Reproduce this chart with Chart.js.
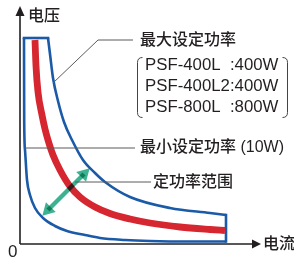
<!DOCTYPE html>
<html>
<head>
<meta charset="utf-8">
<script src="https://cdn.jsdelivr.net/npm/chart.js@4"></script>
<style>
  html, body { margin: 0; padding: 0; background: #ffffff; }
  #wrap { width: 294px; height: 258px; position: relative; }
</style>
</head>
<body>
<div id="wrap"><canvas id="c" width="294" height="258"></canvas></div>
<script>
// ---- data (arbitrary current / voltage units) ----
const minCurveI = [4, 4.2, 5, 7, 10, 15, 23, 35, 47, 65, 80, 105, 130, 170, 206];
const minCurveV = [206, 124, 94, 64, 49, 36, 26, 18, 13, 9, 6, 4, 3, 2.5, 2.5];

const maxCurveI = [28, 30, 33, 38, 44, 52, 63, 75, 85, 110, 150, 190, 206];
const maxCurveV = [206, 190, 166, 143, 122, 104, 84, 71, 62, 47, 36, 31, 29];

const voltLimitI = [4, 28];
const voltLimitV = [206, 206];
const currLimitI = [206, 206];
const currLimitV = [29, 2.5];

const ratedI = [15, 16, 18, 22, 25, 28, 33, 40, 49, 60, 75, 90, 110, 130, 160, 190, 205];
const ratedV = [204, 178, 152, 129, 115, 104, 89, 74, 59, 47, 37, 30.5, 25, 21, 17, 14.5, 13.5];

const rangeArrowI = [28, 64];
const rangeArrowV = [34, 70];

const labelVoltage = '电压';
const labelCurrent = '电流';
const labelOrigin = '0';
const labelMax = '最大设定功率';
const modelNames = ['PSF-400L', 'PSF-400L2', 'PSF-800L'];
const modelPowers = [':400W', ':400W', ':800W'];
const labelMin = '最小设定功率 (10W)';
const labelRange = '定功率范围';

function pts(xs, ys) { return xs.map((x, i) => ({ x: x, y: ys[i] })); }

const BLUE = '#1b5aa7';
const RED = '#d6262f';
const TEAL = '#3db293';
const INK = '#231f20';
const LEADER = '#5a5a5a';
const FONT = '"Liberation Sans", "Noto Sans CJK SC", sans-serif';

const overlayPlugin = {
  id: 'overlay',
  beforeDatasetDraw(chart, args) {
    if (chart.data.datasets[args.index].multiply) {
      chart.ctx.save();
      chart.ctx.globalCompositeOperation = 'multiply';
    }
  },
  afterDatasetDraw(chart, args) {
    if (chart.data.datasets[args.index].multiply) chart.ctx.restore();
  },
  afterDatasetsDraw(chart) {
    const ctx = chart.ctx;
    const xs = chart.scales.x, ys = chart.scales.y;
    const X = v => xs.getPixelForValue(v);
    const Y = v => ys.getPixelForValue(v);
    ctx.save();

    // axes with arrowheads
    const ox = X(0), oy = Y(0);
    ctx.strokeStyle = INK; ctx.fillStyle = INK; ctx.lineWidth = 1.6;
    ctx.beginPath(); ctx.moveTo(ox, oy); ctx.lineTo(ox, Y(228)); ctx.stroke();
    ctx.beginPath(); ctx.moveTo(ox, Y(238)); ctx.lineTo(ox - 4.5, Y(228)); ctx.lineTo(ox + 4.5, Y(228)); ctx.closePath(); ctx.fill();
    ctx.beginPath(); ctx.moveTo(ox, oy); ctx.lineTo(X(233), oy); ctx.stroke();
    ctx.beginPath(); ctx.moveTo(X(241), oy); ctx.lineTo(X(232), oy - 4.5); ctx.lineTo(X(232), oy + 4.5); ctx.closePath(); ctx.fill();

    // leader lines
    ctx.strokeStyle = LEADER; ctx.lineWidth = 1;
    ctx.beginPath(); ctx.moveTo(X(33), Y(161)); ctx.lineTo(X(78), Y(204)); ctx.lineTo(X(113), Y(204)); ctx.stroke();
    ctx.beginPath(); ctx.moveTo(X(5), Y(96)); ctx.lineTo(X(115), Y(96)); ctx.stroke();
    ctx.beginPath(); ctx.moveTo(X(55), Y(62)); ctx.lineTo(X(131), Y(62)); ctx.stroke();

    // bracket around model list
    ctx.strokeStyle = '#444'; ctx.lineWidth = 1;
    const bt = 57.5, bb = 117.5;
    ctx.beginPath();
    ctx.moveTo(142.5, bt); ctx.quadraticCurveTo(137.5, bt, 137.5, bt + 5);
    ctx.lineTo(137.5, bb - 5); ctx.quadraticCurveTo(137.5, bb, 142.5, bb);
    ctx.stroke();
    ctx.beginPath();
    ctx.moveTo(282.5, bt); ctx.quadraticCurveTo(287.5, bt, 287.5, bt + 5);
    ctx.lineTo(287.5, bb - 5); ctx.quadraticCurveTo(287.5, bb, 282.5, bb);
    ctx.stroke();

    // texts
    ctx.fillStyle = INK;
    ctx.textBaseline = 'middle';
    ctx.textAlign = 'left';
    ctx.font = '500 16px ' + FONT;
    ctx.fillText(labelVoltage, 28, 17);
    ctx.fillText(labelCurrent, 263, 245);
    ctx.fillText(labelMax, 140, 41);
    ctx.fillText(labelMin, 140, 148);
    ctx.fillText(labelRange, 153, 183);
    ctx.font = '17px ' + FONT;
    ctx.fillText(labelOrigin, 8, 252);

    ctx.font = '16.8px ' + FONT;
    const colonX = 145 + ctx.measureText(modelNames[1]).width;
    const rows = [65, 86, 107];
    modelNames.forEach((m, i) => {
      ctx.fillText(m, 145, rows[i]);
      ctx.fillText(modelPowers[i], colonX, rows[i]);
    });
    ctx.restore();
  }
};

new Chart(document.getElementById('c'), {
  type: 'scatter',
  data: {
    datasets: [
      { label: '最小设定功率', data: pts(minCurveI, minCurveV), showLine: true, borderColor: BLUE, borderWidth: 2.6, cubicInterpolationMode: 'monotone', pointRadius: 0, order: 3 },
      { label: '最大设定功率', data: pts(maxCurveI, maxCurveV), showLine: true, borderColor: BLUE, borderWidth: 2.6, cubicInterpolationMode: 'monotone', pointRadius: 0, order: 3 },
      { label: 'voltage limit', data: pts(voltLimitI, voltLimitV), showLine: true, borderColor: BLUE, borderWidth: 2.6, pointRadius: 0, borderCapStyle: 'square', order: 3 },
      { label: 'current limit', data: pts(currLimitI, currLimitV), showLine: true, borderColor: BLUE, borderWidth: 2.6, pointRadius: 0, borderCapStyle: 'square', order: 3 },
      { label: '额定功率', data: pts(ratedI, ratedV), showLine: true, borderColor: RED, borderWidth: 6.8, cubicInterpolationMode: 'monotone', pointRadius: 0, borderCapStyle: 'butt', order: 2 },
      { label: '定功率范围', data: pts(rangeArrowI, rangeArrowV), showLine: true, borderColor: TEAL, borderWidth: 4.5,
        pointStyle: 'triangle', pointRadius: 8, pointBackgroundColor: TEAL, pointBorderColor: TEAL, pointBorderWidth: 0,
        rotation: [225, 45], multiply: true, order: 1 }
    ]
  },
  options: {
    responsive: false,
    animation: false,
    clip: false,
    layout: { padding: { left: 20, right: 39, top: 10, bottom: 14 } },
    scales: {
      x: { type: 'linear', min: 0, max: 235, display: false },
      y: { type: 'linear', min: 0, max: 234, display: false }
    },
    plugins: { legend: { display: false }, tooltip: { enabled: false } },
    events: []
  },
  plugins: [overlayPlugin]
});
</script>
</body>
</html>
